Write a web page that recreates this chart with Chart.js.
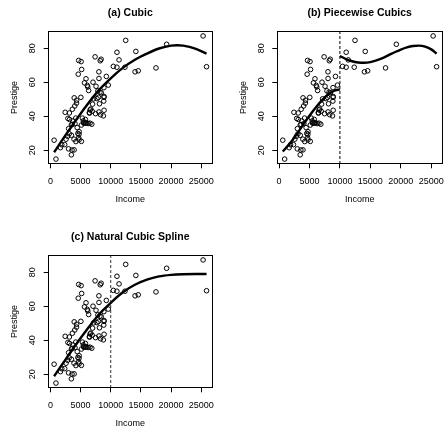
<!DOCTYPE html>
<html><head><meta charset="utf-8">
<script src="https://cdn.jsdelivr.net/npm/chart.js@4/dist/chart.umd.min.js"></script>
<style>
html,body{margin:0;padding:0;background:#fff;overflow:hidden;width:445px;height:427px;position:relative;}
canvas{position:absolute;display:block;}
</style></head><body>
<canvas id="ca" width="222" height="213" style="left:0;top:0"></canvas>
<canvas id="cb" width="230" height="213" style="left:222px;top:0"></canvas>
<canvas id="cc" width="222" height="213" style="left:0;top:224px"></canvas>
<script>
// Canadian occupations: income (dollars) and prestige score
const income = [12351, 25879, 9271, 8865, 8403, 11030, 8258, 14163, 11377, 11023,
  5902, 7059, 8425, 8049, 7405, 6336, 19263, 6112, 9593, 4686,
  12480, 5648, 8034, 25308, 14558, 17498, 4614, 3485, 5092, 10432,
  5180, 6197, 7562, 8206, 4036, 3148, 4348, 2448, 4330, 4761,
  3016, 2901, 5511, 3739, 3161, 4741, 5052, 6259, 4075, 7482,
  8780, 2594, 918, 2370, 8131, 6992, 7956, 8895, 8891, 3116,
  3930, 7869, 611, 3000, 3472, 3582, 3643, 1656, 6860, 4199,
  5134, 5134, 1890, 4443, 3485, 8043, 6686, 6565, 6477, 5811,
  6573, 3942, 5449, 2847, 5795, 7716, 4696, 8316, 7147, 8880,
  5299, 5959, 4549, 6928, 3910, 14032, 8845, 5562, 4224, 4753,
  6462, 3617];
const prestige = [68.8, 69.1, 63.4, 56.8, 73.5, 77.6, 72.6, 78.1, 73.1, 68.8,
  62.0, 60.0, 53.8, 62.2, 74.9, 55.1, 82.3, 58.1, 58.3, 72.8,
  84.6, 59.6, 66.1, 87.2, 66.7, 68.4, 64.7, 34.9, 72.1, 69.3,
  67.5, 57.2, 57.6, 54.1, 46.0, 41.9, 49.4, 42.3, 47.7, 30.9,
  32.7, 38.7, 36.1, 37.2, 38.1, 29.4, 51.1, 35.7, 35.6, 41.5,
  40.2, 26.5, 14.8, 23.3, 47.3, 47.1, 51.1, 43.5, 51.6, 29.7,
  20.2, 54.9, 25.9, 20.8, 17.3, 20.1, 44.1, 21.5, 35.3, 38.9,
  25.2, 34.8, 23.2, 33.3, 28.8, 42.5, 44.2, 35.9, 41.8, 35.9,
  43.7, 50.8, 37.2, 28.2, 38.1, 50.3, 27.3, 40.9, 50.2, 51.1,
  38.9, 36.2, 29.9, 42.9, 26.5, 66.1, 48.9, 35.9, 25.1, 26.1,
  42.2, 35.2];

// Fitted curves
const cubicX = [611, 2000, 4000, 6000, 8000, 10000, 12000, 14000, 16000, 18000, 20000, 21000, 22000, 24000, 25879];
const cubicY = [18.8, 26.2, 36.5, 46.3, 55.2, 62.3, 68.4, 73.2, 76.8, 79.8, 81.5, 81.7, 81.5, 79.8, 76.7];

const pwLeftX = [611, 2000, 3000, 4000, 5000, 6000, 7000, 8000, 9000, 10000];
const pwLeftY = [19.2, 25.0, 29.9, 35.2, 40.3, 45.0, 49.2, 52.6, 54.9, 55.8];
const pwRightX = [10000, 11000, 12000, 13000, 14000, 15000, 16000, 17000, 18000, 19000, 20000, 21000, 22000, 23000, 24000, 25000, 25879];
const pwRightY = [75.4, 73.6, 72.3, 71.6, 71.4, 71.8, 72.8, 74.2, 75.9, 77.6, 79.2, 80.5, 81.3, 81.5, 80.9, 79.3, 76.8];

const nsX = [611, 2000, 4000, 6000, 8000, 10000, 12000, 14000, 16000, 18000, 20000, 22000, 24000, 25879];
const nsY = [18.8, 26.0, 36.3, 46.0, 55.0, 62.0, 68.2, 72.6, 75.6, 77.5, 78.4, 78.8, 78.9, 78.9];

const knot = 10000;
const xTicks = [0, 5000, 10000, 15000, 20000, 25000];
const yTicks = [20, 40, 60, 80];

// R-style 4% axis extension
const xLo = Math.min(...income), xHi = Math.max(...income);
const yLo = Math.min(...prestige), yHi = Math.max(...prestige);
const xMin = xLo - 0.04 * (xHi - xLo), xMax = xHi + 0.04 * (xHi - xLo);
const yMin = yLo - 0.04 * (yHi - yLo), yMax = yHi + 0.04 * (yHi - yLo);

const FAM = '"Liberation Sans", Arial, Helvetica, sans-serif';
const tickFont = { family: FAM, size: 9 };

const toPts = (xs, ys) => xs.map((x, i) => ({ x: x, y: ys[i] }));
const curveDs = (xs, ys) => ({
  data: toPts(xs, ys), showLine: true, pointRadius: 0, borderColor: '#000',
  borderWidth: 2.4, cubicInterpolationMode: 'monotone', fill: false
});
const knotDs = (col) => ({
  data: [{ x: knot, y: yMin }, { x: knot, y: yMax }], showLine: true, pointRadius: 0,
  borderColor: col, borderWidth: 1, borderDash: [3, 2], fill: false
});
const pointsDs = () => ({
  data: toPts(income, prestige), showLine: false, pointRadius: 2.3,
  borderColor: '#000', backgroundColor: 'rgba(0,0,0,0)', borderWidth: 1
});

const boxPlugin = {
  id: 'box',
  afterDraw(chart) {
    const { ctx, chartArea: a } = chart;
    ctx.save();
    ctx.strokeStyle = '#000';
    ctx.lineWidth = 1;
    ctx.strokeRect(Math.round(a.left) + 0.5, Math.round(a.top) + 0.5,
      Math.round(a.right - a.left) - 1, Math.round(a.bottom - a.top) - 1);
    ctx.restore();
  }
};

function makeChart(id, titleText, datasets, o) {
  return new Chart(document.getElementById(id), {
    type: 'scatter',
    data: { datasets: datasets },
    options: {
      responsive: false, animation: false, events: [],
      layout: { padding: { left: 0, top: 0, right: o.padRight, bottom: 0 } },
      plugins: {
        legend: { display: false }, tooltip: { enabled: false },
        title: {
          display: true, text: titleText, fullSize: false, color: '#000',
          font: { family: FAM, size: 10.5, weight: 'bold', lineHeight: 1.2 },
          padding: { top: 7.0, bottom: 11.4 }
        }
      },
      scales: {
        x: {
          type: 'linear', position: 'bottom', min: xMin, max: xMax,
          afterBuildTicks: s => { s.ticks = xTicks.map(v => ({ value: v })); },
          afterFit: s => { s.height = 49; },
          ticks: { callback: v => String(v), font: tickFont, color: '#000', padding: 7.6, maxRotation: 0, minRotation: 0, autoSkip: false },
          grid: { display: true, drawOnChartArea: false, drawTicks: true, tickLength: 4.3, color: '#000', lineWidth: 1 },
          border: { display: false },
          title: { display: true, text: 'Income', font: tickFont, color: '#000', padding: { top: 0, bottom: 7.6 } }
        },
        y: {
          type: 'linear', position: 'left', min: yMin, max: yMax,
          afterBuildTicks: s => { s.ticks = yTicks.map(v => ({ value: v })); },
          afterFit: s => { s.width = o.yWidth; },
          ticks: { callback: v => String(v), font: tickFont, color: '#000', padding: 6.0, minRotation: 90, maxRotation: 90, crossAlign: 'center', autoSkip: false },
          grid: { display: true, drawOnChartArea: false, drawTicks: true, tickLength: 4.3, color: '#000', lineWidth: 1 },
          border: { display: false },
          title: { display: true, text: 'Prestige', font: tickFont, color: '#000', padding: { top: o.yTitlePad, bottom: 0 } }
        }
      }
    },
    plugins: [boxPlugin]
  });
}

makeChart('ca', '(a) Cubic', [curveDs(cubicX, cubicY), pointsDs()],
  { padRight: 4, yWidth: 48, yTitlePad: 9.6 });
makeChart('cb', '(b) Piecewise Cubics',
  [curveDs(pwLeftX, pwLeftY), curveDs(pwRightX, pwRightY), knotDs('#000'), pointsDs()],
  { padRight: 5.4, yWidth: 54.6, yTitlePad: 16.2 });
makeChart('cc', '(c) Natural Cubic Spline',
  [curveDs(nsX, nsY), knotDs('#333'), pointsDs()],
  { padRight: 4, yWidth: 48, yTitlePad: 9.6 });
</script>
</body></html>
